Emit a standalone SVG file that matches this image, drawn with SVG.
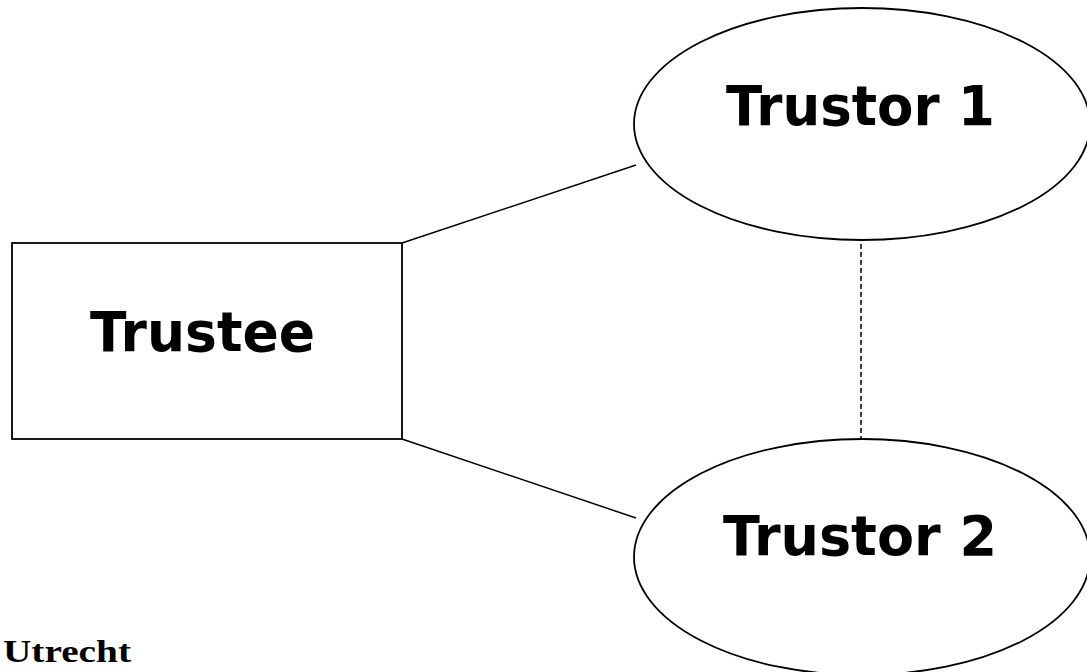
<svg xmlns="http://www.w3.org/2000/svg" width="1087" height="672" viewBox="0 0 1087 672">
<style>
.shape{fill:#fff;stroke:#000;stroke-width:1.8}
.lbl{font-family:"DejaVu Sans",Verdana,sans-serif;font-weight:bold;font-size:56px;fill:#000}
.conn{stroke:#000;stroke-width:1.5;fill:none}
.dash{stroke-dasharray:5 3}
</style>
<rect width="1087" height="672" fill="#fff"/>
<g id="connectors">
<line class="conn" x1="402" y1="243" x2="636" y2="165"/>
<line class="conn" x1="402" y1="439" x2="636" y2="518"/>
<line class="conn dash" x1="861" y1="244" x2="861" y2="439"/>
</g>
<g id="trustee">
<rect class="shape" x="12" y="243" width="390" height="196"/>
<text class="lbl" x="90" y="351" textLength="225" lengthAdjust="spacingAndGlyphs">Trustee</text>
</g>
<g id="trustor1">
<ellipse class="shape" cx="862" cy="124" rx="228" ry="116"/>
<text class="lbl" x="726" y="125" textLength="269" lengthAdjust="spacingAndGlyphs">Trustor 1</text>
</g>
<g id="trustor2">
<ellipse class="shape" cx="862" cy="557" rx="228" ry="118"/>
<text class="lbl" x="723" y="555" textLength="274" lengthAdjust="spacingAndGlyphs">Trustor 2</text>
</g>
<text x="3" y="662" font-family="'Liberation Serif',serif" font-weight="bold" font-size="31" textLength="128" lengthAdjust="spacingAndGlyphs">Utrecht</text>
</svg>
